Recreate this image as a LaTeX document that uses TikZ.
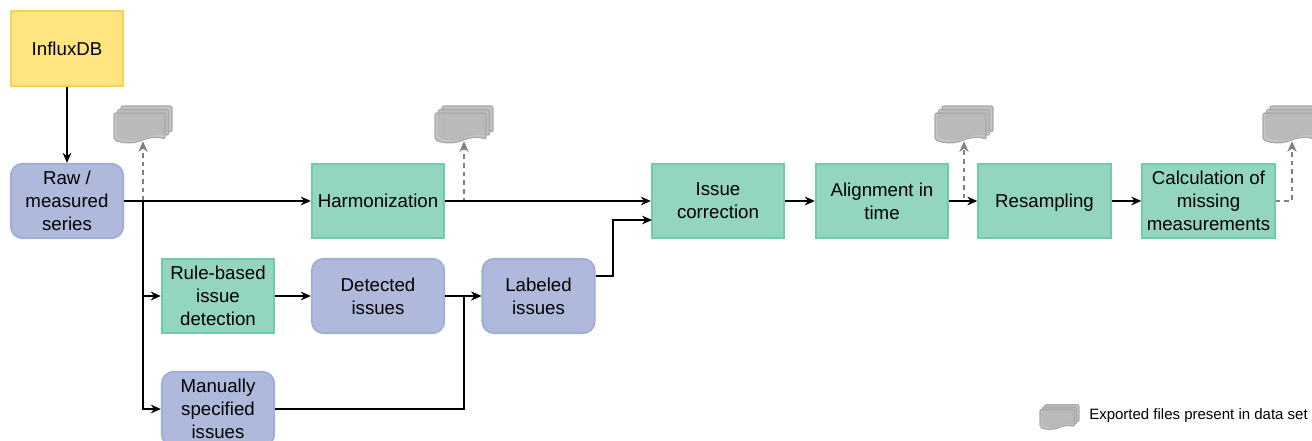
\documentclass[tikz,border=0pt]{standalone}
\usepackage{fontspec}
\setmainfont{Liberation Sans}
\usetikzlibrary{arrows.meta}
\newlength{\du}
\setlength{\du}{0.75pt}
\definecolor{dbfill}{HTML}{FFE57F}
\definecolor{dbline}{HTML}{F5D25A}
\definecolor{datafill}{HTML}{AEB9DB}
\definecolor{dataline}{HTML}{9FAED6}
\definecolor{stepfill}{HTML}{93D5BF}
\definecolor{stepline}{HTML}{6FCCA6}
\definecolor{docfill}{HTML}{BABABA}
\definecolor{docline}{HTML}{A8A8A8}
\definecolor{exportline}{HTML}{808080}
\tikzset{
  box/.style={minimum width=112.5\du,minimum height=74.5\du,inner sep=0pt,align=center,line width=1.4pt,
    font=\fontsize{14}{17.3}\selectfont},
  dbbox/.style={box,draw=dbline,fill=dbfill},
  databox/.style={box,draw=dataline,fill=datafill,rounded corners=9pt},
  stepbox/.style={box,draw=stepline,fill=stepfill,minimum width=132.5\du},
  stepsmall/.style={box,draw=stepline,fill=stepfill},
  docspot/.style={minimum width=58\du,minimum height=30\du,inner sep=0pt},
  flow/.style={-{Stealth[length=7.5pt,width=6.5pt]},line width=1.35pt,black},
  export/.style={-{Stealth[length=8pt,width=7pt]},line width=1.1pt,exportline,dash pattern=on 3.5pt off 3pt},
  docsheet/.style={draw=docline,fill=docfill,fill opacity=0.85,line width=0.9pt,rounded corners=1.5pt},
  docstack/.pic={
    \foreach \off in {7,3.5,0}{
      \draw[docsheet,shift={(\off,-\off)}] (-29,-13) -- (-29,14) .. controls (-18,18) and (-9,17) .. (-2,14.5)
        .. controls (5,12) and (12,10) .. (22,13) -- (22,-13) -- cycle;
    }
  }
}
\begin{document}
\begin{tikzpicture}[x=\du,y=-\du]
\useasboundingbox (0,0) rectangle (1312,441);
% nodes
\node[dbbox] (influx) at (67,48.5) {InfluxDB};
\node[databox] (raw) at (67,201) {Raw /\\measured\\series};
\node[stepbox] (harmonization) at (378,201) {Harmonization};
\node[stepbox] (correction) at (718,201) {Issue\\correction};
\node[stepbox] (alignment) at (882,201) {Alignment in\\time};
\node[stepbox,text depth=0pt] (resampling) at (1044.5,201) {Resampling};
\node[stepbox] (calculation) at (1208.5,201) {Calculation of\\missing\\measurements};
\node[stepsmall] (rulebased) at (218,296) {Rule-based\\issue\\detection};
\node[databox,minimum width=132.5\du] (detected) at (378,296) {Detected\\issues};
\node[databox] (labeled) at (538.5,296) {Labeled\\issues};
\node[databox] (manual) at (218,409) {Manually\\specified\\issues};
% exported files
\node[docspot] (docraw) at (143,126) {};
\node[docspot] (docharm) at (464,126) {};
\node[docspot] (docalign) at (964,126) {};
\node[docspot] (doccalc) at (1292,126) {};
\node[docspot,minimum width=39\du,minimum height=26\du] (doclegend) at (1059.5,418) {};
\pic at (docraw) {docstack};
\pic at (docharm) {docstack};
\pic at (docalign) {docstack};
\pic at (doccalc) {docstack};
\pic[scale=0.67] at (doclegend) {docstack};
\node[anchor=west,inner sep=0pt,font=\fontsize{11.25}{13}\selectfont] (legend) at (1089,416) {Exported files present in data set};
% junctions
\coordinate (rawsplit) at (143,201);
\coordinate (harmout) at (464,201);
\coordinate (alignout) at (964,201);
\coordinate (calcout) at (1292,201);
\coordinate (merge) at (464,296);
% connectors
\draw[export] (rawsplit) -- (docraw.south);
\draw[export] (harmonization.east) -- (harmout) -- (docharm.south);
\draw[export] (alignment.east) -- (alignout) -- (docalign.south);
\draw[export] (calculation.east) -- (calcout) -- (doccalc.south);
\draw[flow] (influx) -- (raw);
\draw[flow] (raw) -- (harmonization);
\draw[flow] (harmonization) -- (correction);
\draw[flow] (correction) -- (alignment);
\draw[flow] (alignment) -- (resampling);
\draw[flow] (resampling) -- (calculation);
\draw[flow] (rawsplit) |- (rulebased);
\draw[flow] (rawsplit) |- (manual);
\draw[flow] (rulebased) -- (detected);
\draw[flow] (detected) -- (labeled);
\draw[flow] (manual) -| (merge) -- (labeled);
\draw[flow] (labeled.east |- 0,276) -- (613,276) |- (652,220);
\end{tikzpicture}
\end{document}
